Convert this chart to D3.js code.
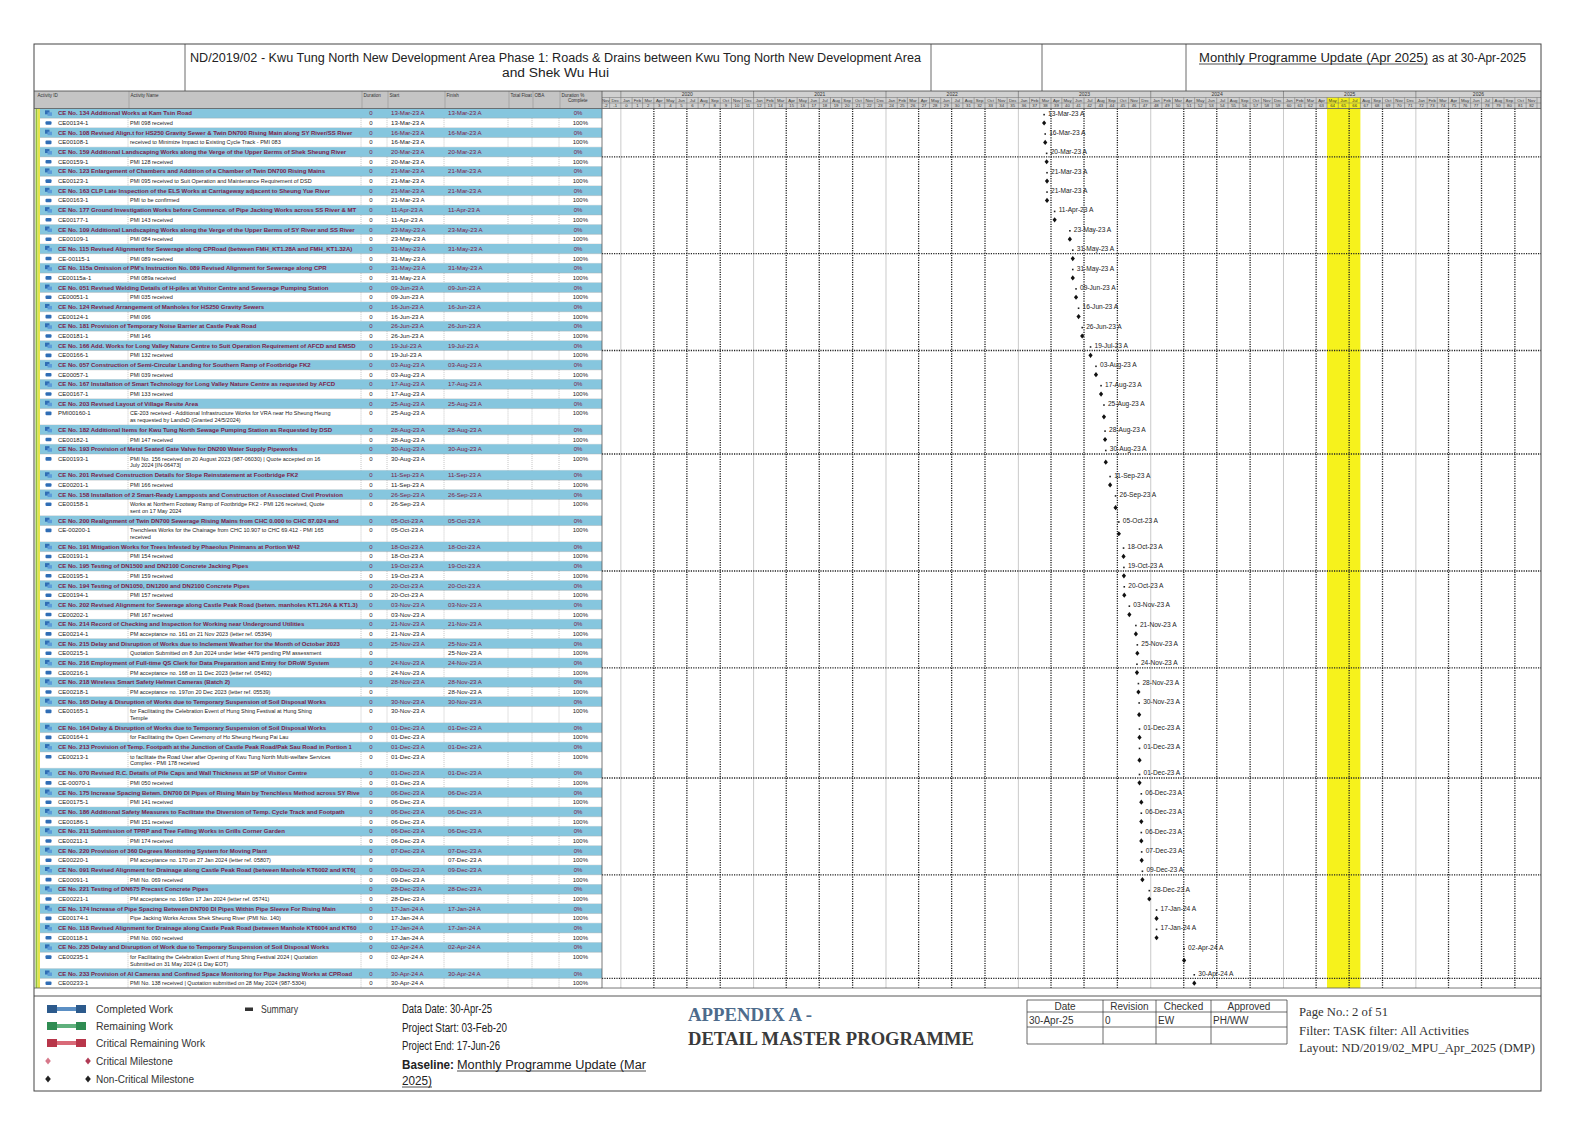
<!DOCTYPE html>
<html><head><meta charset="utf-8">
<script src="https://cdn.jsdelivr.net/npm/d3@7"></script>
<style>body{margin:0;background:#fff}svg{display:block}</style>
</head><body><svg id="c" width="1587" height="1123"></svg>
<script>
// ---------------- DATA ----------------
const summaryNames = [
"CE No. 134 Additional Works at Kam Tsin Road",
"CE No. 108 Revised Align.t for HS250 Gravity Sewer & Twin DN700 Rising Main along SY River/SS River",
"CE No. 159 Additional Landscaping Works along the Verge of the Upper Berms of Shek Sheung River",
"CE No. 123 Enlargement of Chambers and Addition of a Chamber of Twin DN700 Rising Mains",
"CE No. 163 CLP Late Inspection of the ELS Works at Carriageway adjacent to Sheung Yue River",
"CE No. 177 Ground Investigation Works before Commence. of Pipe Jacking Works across SS River & MT",
"CE No. 109 Additional Landscaping Works along the Verge of the Upper Berms of SY River and SS River",
"CE No. 115 Revised Alignment for Sewerage along CPRoad (between FMH_KT1.28A and FMH_KT1.32A)",
"CE No. 115a Omission of PM's Instruction No. 089 Revised Alignment for Sewerage along CPR",
"CE No. 051 Revised Welding Details of H-piles at Visitor Centre and Sewerage Pumping Station",
"CE No. 124 Revised Arrangement of Manholes for HS250 Gravity Sewers",
"CE No. 181 Provision of Temporary Noise Barrier at Castle Peak Road",
"CE No. 166 Add. Works for Long Valley Nature Centre to Suit Operation Requirement of AFCD and EMSD",
"CE No. 057 Construction of Semi-Circular Landing for Southern Ramp of Footbridge FK2",
"CE No. 167 Installation of Smart Technology for Long Valley Nature Centre as requested by AFCD",
"CE No. 203 Revised Layout of Village Resite Area",
"CE No. 182 Additional Items for Kwu Tung North Sewage Pumping Station as Requested by DSD",
"CE No. 193 Provision of Metal Seated Gate Valve for DN200 Water Supply Pipeworks",
"CE No. 201 Revised Construction Details for Slope Reinstatement at Footbridge FK2",
"CE No. 158 Installation of 2 Smart-Ready Lampposts and Construction of Associated Civil Provision",
"CE No. 200 Realignment of Twin DN700 Sewerage Rising Mains from CHC 0.000 to CHC 87.024 and",
"CE No. 191 Mitigation Works for Trees Infested by Phaeolus Pinimans at Portion W42",
"CE No. 195 Testing of DN1500 and DN2100 Concrete Jacking Pipes",
"CE No. 194 Testing of DN1050, DN1200 and DN2100 Concrete Pipes",
"CE No. 202 Revised Alignment for Sewerage along Castle Peak Road (betwn. manholes KT1.26A & KT1.3)",
"CE No. 214 Record of Checking and Inspection for Working near Underground Utilities",
"CE No. 215 Delay and Disruption of Works due to Inclement Weather for the Month of October 2023",
"CE No. 216 Employment of Full-time QS Clerk for Data Preparation and Entry for DRoW System",
"CE No. 218 Wireless Smart Safety Helmet Cameras (Batch 2)",
"CE No. 165 Delay & Disruption of Works due to Temporary Suspension of Soil Disposal Works",
"CE No. 164 Delay & Disruption of Works due to Temporary Suspension of Soil Disposal Works",
"CE No. 213 Provision of Temp. Footpath at the Junction of Castle Peak Road/Pak Sau Road in Portion 1",
"CE No. 070 Revised R.C. Details of Pile Caps and Wall Thickness at SP of Visitor Centre",
"CE No. 175 Increase Spacing Betwn. DN700 DI Pipes of Rising Main by Trenchless Method across SY Rive",
"CE No. 186 Additional Safety Measures to Facilitate the Diversion of Temp. Cycle Track and Footpath",
"CE No. 211 Submission of TPRP and Tree Felling Works in Grills Corner Garden",
"CE No. 220 Provision of 360 Degrees Monitoring System for Moving Plant",
"CE No. 091 Revised Alignment for Drainage along Castle Peak Road (between Manhole KT6002 and KT6(",
"CE No. 221 Testing of DN675 Precast Concrete Pipes",
"CE No. 174 Increase of Pipe Spacing Between DN700 DI Pipes Within Pipe Sleeve For Rising Main",
"CE No. 118 Revised Alignment for Drainage along Castle Peak Road (between Manhole KT6004 and KT60",
"CE No. 235 Delay and Disruption of Work due to Temporary Suspension of Soil Disposal Works",
"CE No. 233 Provision of AI Cameras and Confined Space Monitoring for Pipe Jacking Works at CPRoad"
];
const taskIds = ["CE00134-1","CE00108-1","CE00159-1","CE00123-1","CE00163-1","CE00177-1","CE00109-1","CE-00115-1","CE00115a-1","CE00051-1","CE00124-1","CE00181-1","CE00166-1","CE00057-1","CE00167-1","PMI00160-1","CE00182-1","CE00193-1","CE00201-1","CE00158-1","CE-00200-1","CE00191-1","CE00195-1","CE00194-1","CE00202-1","CE00214-1","CE00215-1","CE00216-1","CE00218-1","CE00165-1","CE00164-1","CE00213-1","CE-00070-1","CE00175-1","CE00186-1","CE00211-1","CE00220-1","CE00091-1","CE00221-1","CE00174-1","CE00118-1","CE00235-1","CE00233-1"];
const taskNames = [
"PMI 098 received",
"received to Minimize Impact to Existing Cycle Track - PMI 083",
"PMI 128 received",
"PMI 095 received to Suit Operation and Maintenance Requirement of DSD",
"PMI to be confirmed",
"PMI 143 received",
"PMI 084 received",
"PMI 089 received",
"PMI 089a received",
"PMI 035 received",
"PMI 096",
"PMI 146",
"PMI 132 received",
"PMI 039 received",
"PMI 133 received",
"CE-203 received - Additional Infrastructure Works for VRA near Ho Sheung Heung\nas requested by LandsD (Granted 24/5/2024)",
"PMI 147 received",
"PMI No. 156 received on 20 August 2023 (987-06030) | Quote accepted on 16\nJuly 2024 [IN-06473]",
"PMI 166 received",
"Works at Northern Footway Ramp of Footbridge FK2 - PMI 126 received, Quote\nsent on 17 May 2024",
"Trenchless Works for the Chainage from CHC 10.907 to CHC 69.412 - PMI 165\nreceived",
"PMI 154 received",
"PMI 159 received",
"PMI 157 received",
"PMI 167 received",
"PM acceptance no. 161 on 21 Nov 2023 (letter ref. 05394)",
"Quotation Submitted on 8 Jun 2024 under letter 4479 pending PM assessment",
"PM acceptance no. 168 on 11 Dec 2023 (letter ref. 05492)",
"PM acceptance no. 197on 20 Dec 2023 (letter ref. 05539)",
"for Facilitating the Celebration Event of Hung Shing Festival at Hung Shing\nTemple",
"for Facilitating the Open Ceremony of Ho Sheung Heung Pai Lau",
"to facilitate the Road User after Opening of Kwu Tung North Multi-welfare Services\nComplex - PMI 178 received",
"PMI 050 received",
"PMI 141 received",
"PMI 151 received",
"PMI 174 received",
"PM acceptance no. 170 on 27 Jan 2024 (letter ref. 05807)",
"PMI No. 069 received",
"PM acceptance no. 169on 17 Jan 2024 (letter ref. 05741)",
"Pipe Jacking Works Across Shek Sheung River (PMI No. 140)",
"PMI No. 090 received",
"for Facilitating the Celebration Event of Hung Shing Festival 2024 | Quotation\nSubmitted on 31 May 2024 (1 Day EOT)",
"PMI No. 138 received | Quotation submitted on 28 May 2024 (987-5304)"
];
const milestoneDates = ["13-Mar-23","16-Mar-23","20-Mar-23","21-Mar-23","21-Mar-23","11-Apr-23","23-May-23","31-May-23","31-May-23","09-Jun-23","16-Jun-23","26-Jun-23","19-Jul-23","03-Aug-23","17-Aug-23","25-Aug-23","28-Aug-23","30-Aug-23","11-Sep-23","26-Sep-23","05-Oct-23","18-Oct-23","19-Oct-23","20-Oct-23","03-Nov-23","21-Nov-23","25-Nov-23","24-Nov-23","28-Nov-23","30-Nov-23","01-Dec-23","01-Dec-23","01-Dec-23","06-Dec-23","06-Dec-23","06-Dec-23","07-Dec-23","09-Dec-23","28-Dec-23","17-Jan-24","17-Jan-24","02-Apr-24","30-Apr-24"];
const finishOnlyTasks = ["CE00215-1","CE00218-1","CE00220-1"];
const monthLabels = ["Jan","Feb","Mar","Apr","May","Jun","Jul","Aug","Sep","Oct","Nov","Dec"];
const columnHeaders = ["Activity ID","Activity Name","Duration","Start","Finish","Total Float","OBA","Duration %"];
const highlightPeriod = ["01-May-25","01-Aug-25"];
const timescaleRange = ["10-Nov-19","12-Dec-26"];
const legendLabels = ["Completed Work","Remaining Work","Critical Remaining Work","Critical Milestone","Non-Critical Milestone"];
const footerInfo = ["Data Date: 30-Apr-25","Project Start: 03-Feb-20","Project End: 17-Jun-26"];
const signHeaders = ["Date","Revision","Checked","Approved"];
const signValues = ["30-Apr-25","0","EW","PH/WW"];
const pageInfo = ["Page No.: 2 of 51","Filter: TASK filter: All Activities","Layout: ND/2019/02_MPU_Apr_2025 (DMP)"];

// ---------------- LAYOUT ----------------
const svg = d3.select('#c');
const F = "'Liberation Sans', Arial, sans-serif";
const FS = "'Liberation Serif', 'Times New Roman', serif";
const L=34, R=1541, T=44, B=1091;
const titleB=91, headB=108.5, gx0=602, gx1=R;
const rowH=9.68, rowH2=16.4;
const C = {icon:45, id:58, name:129, dur:362, start:388, finish:445, tf:509, oba:533, pct:560};
const parse = d3.timeParse("%d-%b-%y");
const x = d3.scaleTime().domain(timescaleRange.map(parse)).range([gx0,gx1]);

const rows=[]; let yy=headB;
summaryNames.forEach((s,i)=>{
  rows.push({type:'s', name:s, date:milestoneDates[i], y0:yy, h:rowH}); yy+=rowH;
  const h = taskNames[i].includes('\n')?rowH2:rowH;
  rows.push({type:'t', id:taskIds[i], name:taskNames[i], date:milestoneDates[i], y0:yy, h, finishOnly: finishOnlyTasks.includes(taskIds[i])}); yy+=h;
});
const tableB = yy;

const defs = svg.append('defs');
defs.append('clipPath').attr('id','clipName').append('rect').attr('x',L).attr('y',headB).attr('width',C.dur-L-1).attr('height',tableB-headB);
defs.append('clipPath').attr('id','clipTask').append('rect').attr('x',C.name).attr('y',headB).attr('width',C.dur-C.name-1).attr('height',tableB-headB);
defs.append('clipPath').attr('id','clipG').append('rect').attr('x',gx0).attr('y',titleB).attr('width',gx1-gx0).attr('height',tableB-titleB);

svg.append('rect').attr('width',1587).attr('height',1123).attr('fill','#fff');

// ---------------- TITLE ROW ----------------
const tg = svg.append('g');
[185,931,1042,1186].forEach(v=>tg.append('line').attr('x1',v).attr('x2',v).attr('y1',T).attr('y2',titleB).attr('stroke','#444').attr('stroke-width',0.8));
tg.append('text').attr('x',190).attr('y',62).attr('font-family',F).attr('font-size',12.5).attr('fill','#222')
  .attr('textLength',731).attr('lengthAdjust','spacingAndGlyphs')
  .text("ND/2019/02 - Kwu Tung North New Development Area Phase 1: Roads & Drains between Kwu Tong North New Development Area");
tg.append('text').attr('x',502).attr('y',77).attr('font-family',F).attr('font-size',12.5).attr('fill','#222')
  .attr('textLength',107).attr('lengthAdjust','spacingAndGlyphs').text("and Shek Wu Hui");
tg.append('text').attr('x',1199).attr('y',62).attr('font-family',F).attr('font-size',12.5).attr('fill','#222')
  .attr('textLength',229).attr('lengthAdjust','spacingAndGlyphs').text("Monthly Programme Update (Apr 2025)");
tg.append('line').attr('x1',1199).attr('x2',1428).attr('y1',64).attr('y2',64).attr('stroke','#222').attr('stroke-width',0.8);
tg.append('text').attr('x',1432).attr('y',62).attr('font-family',F).attr('font-size',12.5).attr('fill','#222')
  .attr('textLength',94).attr('lengthAdjust','spacingAndGlyphs').text("as at 30-Apr-2025");

// ---------------- TABLE HEADER ----------------
svg.append('rect').attr('x',L).attr('y',titleB).attr('width',gx0-L).attr('height',headB-titleB).attr('fill','#c4c4c4');
const colX=[L+2,C.name,C.dur,C.start,C.finish,C.tf,C.oba,C.pct];
columnHeaders.forEach((h,i)=>{
  svg.append('text').attr('x',colX[i]+1.5).attr('y',titleB+5.5).attr('font-family',F).attr('font-size',4.6).attr('fill','#333').text(h);
  if(i>0) svg.append('line').attr('x1',colX[i]).attr('x2',colX[i]).attr('y1',titleB).attr('y2',headB).attr('stroke','#8a8a8a').attr('stroke-width',0.5);
});
svg.append('text').attr('x',C.pct+8).attr('y',titleB+11).attr('font-family',F).attr('font-size',4.6).attr('fill','#333').text("Complete");

// ---------------- GANTT HEADER ----------------
const gh = svg.append('g').attr('clip-path','url(#clipG)');
const yr1=titleB, yr2=97.5, yr3=103, yr4=headB;
gh.append('rect').attr('x',gx0).attr('y',yr1).attr('width',gx1-gx0).attr('height',yr4-yr1).attr('fill','#d0d0d0');
const hp = highlightPeriod.map(parse);
gh.append('rect').attr('x',x(hp[0])).attr('y',yr2).attr('width',x(hp[1])-x(hp[0])).attr('height',yr4-yr2).attr('fill','#f2ef1c');
const d0=x.domain()[0], d1=x.domain()[1];
d3.timeYear.range(d3.timeYear.floor(d0), d1).forEach(ys=>{
  const a=Math.max(x(ys),gx0), b=Math.min(x(d3.timeYear.offset(ys,1)),gx1);
  gh.append('line').attr('x1',x(ys)).attr('x2',x(ys)).attr('y1',yr1).attr('y2',yr2).attr('stroke','#666').attr('stroke-width',0.6);
  if(b-a>30) gh.append('text').attr('x',(a+b)/2).attr('y',yr1+5).attr('text-anchor','middle').attr('font-family',F).attr('font-size',5).attr('fill','#333').text(ys.getFullYear());
});
d3.timeMonth.range(d3.timeMonth.floor(d0), d1).forEach(ms=>{
  const a=Math.max(x(ms),gx0), b=Math.min(x(d3.timeMonth.offset(ms,1)),gx1);
  gh.append('line').attr('x1',x(ms)).attr('x2',x(ms)).attr('y1',yr2).attr('y2',yr4).attr('stroke','#6a6a6a').attr('stroke-width',0.5);
  if(b-a>6){
    const n=(ms.getFullYear()-2020)*12+ms.getMonth();
    gh.append('text').attr('x',(a+b)/2).attr('y',yr3-1.3).attr('text-anchor','middle').attr('font-family',F).attr('font-size',4.3).attr('fill','#333').text(monthLabels[ms.getMonth()]);
    gh.append('text').attr('x',(a+b)/2).attr('y',yr4-1.3).attr('text-anchor','middle').attr('font-family',F).attr('font-size',4.3).attr('fill','#333').text(n);
  }
});
[yr2,yr3].forEach(v=>gh.append('line').attr('x1',gx0).attr('x2',gx1).attr('y1',v).attr('y2',v).attr('stroke','#6a6a6a').attr('stroke-width',0.5));

// ---------------- TABLE ROWS ----------------
const tb = svg.append('g');
rows.forEach(r=>{
  if(r.type==='s'){
    tb.append('rect').attr('x',L+6).attr('y',r.y0).attr('width',gx0-L-6).attr('height',r.h).attr('fill','#86c6de');
  }
  tb.append('line').attr('x1',L+6).attr('x2',gx0).attr('y1',r.y0+r.h).attr('y2',r.y0+r.h).attr('stroke','#a9a9a9').attr('stroke-width',0.4);
});
tb.append('rect').attr('x',35.5).attr('y',headB).attr('width',2).attr('height',tableB-headB).attr('fill','#93c23c');
tb.append('rect').attr('x',37.5).attr('y',headB).attr('width',2.5).attr('height',tableB-headB).attr('fill','#e4e44c');
rows.filter(r=>r.type==='t').forEach(r=>{
  [C.name,C.dur,C.start,C.finish,C.tf,C.oba,C.pct].forEach(v=>{
    tb.append('line').attr('x1',v-1).attr('x2',v-1).attr('y1',r.y0).attr('y2',r.y0+r.h).attr('stroke','#8d8d8d').attr('stroke-width',0.5).attr('stroke-dasharray','1,1');
  });
});
const nameG = tb.append('g').attr('clip-path','url(#clipName)');
const taskG = tb.append('g').attr('clip-path','url(#clipTask)');
rows.forEach(r=>{
  const yc = r.y0 + rowH/2;
  const by = yc + 2;
  if(r.type==='s'){
    tb.append('rect').attr('x',C.icon).attr('y',yc-3).attr('width',4.5).attr('height',4).attr('fill','#2f6db5');
    tb.append('rect').attr('x',C.icon+2.5).attr('y',yc-1).attr('width',4.5).attr('height',3.5).attr('fill','#5c9bd9');
    nameG.append('text').attr('x',C.id).attr('y',by).attr('font-family',F).attr('font-size',6).attr('font-weight','bold').attr('fill','#7b2049').text(r.name);
    const col='#7b2049';
    tb.append('text').attr('x',C.dur+9).attr('y',by).attr('text-anchor','middle').attr('font-family',F).attr('font-size',6).attr('fill',col).text('0');
    tb.append('text').attr('x',C.start+3).attr('y',by).attr('font-family',F).attr('font-size',6.1).attr('fill',col).text(r.date+' A');
    tb.append('text').attr('x',C.finish+3).attr('y',by).attr('font-family',F).attr('font-size',6.1).attr('fill',col).text(r.date+' A');
    tb.append('text').attr('x',578).attr('y',by).attr('text-anchor','middle').attr('font-family',F).attr('font-size',6).attr('fill',col).text('0%');
  } else {
    tb.append('rect').attr('x',C.icon+0.5).attr('y',yc-1.8).attr('width',6).attr('height',3.6).attr('rx',1).attr('fill','#2f6db5');
    tb.append('text').attr('x',C.id).attr('y',by).attr('font-family',F).attr('font-size',6).attr('fill','#222').text(r.id);
    r.name.split('\n').forEach((ln,k)=>{
      taskG.append('text').attr('x',C.name+1).attr('y',by+k*6.6).attr('font-family',F).attr('font-size',5.5).attr('fill','#222').text(ln);
    });
    tb.append('text').attr('x',C.dur+9).attr('y',by).attr('text-anchor','middle').attr('font-family',F).attr('font-size',6).attr('fill','#222').text('0');
    if(r.finishOnly) tb.append('text').attr('x',C.finish+3).attr('y',by).attr('font-family',F).attr('font-size',6.1).attr('fill','#222').text(r.date+' A');
    else tb.append('text').attr('x',C.start+3).attr('y',by).attr('font-family',F).attr('font-size',6.1).attr('fill','#222').text(r.date+' A');
    tb.append('text').attr('x',588).attr('y',by).attr('text-anchor','end').attr('font-family',F).attr('font-size',6).attr('fill','#222').text('100%');
  }
});

// ---------------- GANTT BODY ----------------
const gb = svg.append('g').attr('clip-path','url(#clipG)');
gb.append('rect').attr('x',x(hp[0])).attr('y',headB).attr('width',x(hp[1])-x(hp[0])).attr('height',tableB-headB).attr('fill','#f6f21c');
d3.timeYear.range(d3.timeYear.ceil(d0), d1).forEach(ys=>{
  gb.append('line').attr('x1',x(ys)).attr('x2',x(ys)).attr('y1',headB).attr('y2',tableB).attr('stroke','#bdbdbd').attr('stroke-width',0.8);
});
d3.timeMonth.range(d3.timeMonth.ceil(d0), d1).filter(m=>m.getMonth()%3===0 && m.getMonth()!==0).forEach(ms=>{
  gb.append('line').attr('x1',x(ms)).attr('x2',x(ms)).attr('y1',headB).attr('y2',tableB).attr('stroke','#222').attr('stroke-width',1.3).attr('stroke-dasharray','1.2,1.2');
});
rows.forEach((r,i)=>{
  if(i%10===5) gb.append('line').attr('x1',gx0).attr('x2',gx1).attr('y1',r.y0).attr('y2',r.y0).attr('stroke','#222').attr('stroke-width',1.3).attr('stroke-dasharray','1.2,1.2');
});
rows.forEach(r=>{
  const xd = x(parse(r.date));
  const yc = r.y0 + rowH/2;
  if(r.type==='s'){
    gb.append('rect').attr('x',xd-0.8).attr('y',yc+0.5).attr('width',1.6).attr('height',1.6).attr('fill','#222');
    gb.append('text').attr('x',xd+4).attr('y',yc+2.3).attr('font-family',F).attr('font-size',6.6).attr('fill','#222').text(r.date+' A');
  } else {
    const yd = r.y0 + r.h/2;
    gb.append('path').attr('d',`M${xd},${yd-2.6}L${xd+2.1},${yd}L${xd},${yd+2.6}L${xd-2.1},${yd}Z`).attr('fill','#111');
  }
});

// ---------------- FRAME LINES ----------------
const fr = svg.append('g').attr('fill','none');
fr.append('rect').attr('x',L).attr('y',T).attr('width',R-L).attr('height',B-T).attr('stroke','#444').attr('stroke-width',1);
fr.append('line').attr('x1',L).attr('x2',R).attr('y1',titleB).attr('y2',titleB).attr('stroke','#444').attr('stroke-width',0.8);
fr.append('line').attr('x1',L).attr('x2',R).attr('y1',headB).attr('y2',headB).attr('stroke','#555').attr('stroke-width',0.8);
fr.append('line').attr('x1',gx0).attr('x2',gx0).attr('y1',titleB).attr('y2',tableB).attr('stroke','#555').attr('stroke-width',0.8);
fr.append('line').attr('x1',L).attr('x2',R).attr('y1',tableB).attr('y2',tableB).attr('stroke','#555').attr('stroke-width',0.8);
fr.append('line').attr('x1',L).attr('x2',R).attr('y1',996).attr('y2',996).attr('stroke','#444').attr('stroke-width',0.9);

// ---------------- FOOTER ----------------
const ft = svg.append('g');
const legY=[1009,1026,1043,1061,1079];
const legCol=[["#2c5a8c","#5b8fc4"],["#2f8c52","#5fb07c"],["#b8364a","#d96a78"]];
[0,1,2].forEach(i=>{
  const y=legY[i];
  ft.append('rect').attr('x',47).attr('y',y-4).attr('width',10).attr('height',8).attr('fill',legCol[i][0]);
  ft.append('rect').attr('x',57).attr('y',y-2).attr('width',19).attr('height',4).attr('fill',legCol[i][1]);
  ft.append('rect').attr('x',76).attr('y',y-4).attr('width',10).attr('height',8).attr('fill',legCol[i][0]);
});
const dia=(g,cx,cy,fill)=>g.append('path').attr('d',`M${cx},${cy-3.5}L${cx+2.8},${cy}L${cx},${cy+3.5}L${cx-2.8},${cy}Z`).attr('fill',fill);
dia(ft,48,legY[3],'#d7788a'); dia(ft,88,legY[3],'#b03a55');
dia(ft,48,legY[4],'#222'); dia(ft,88,legY[4],'#222');
const legW=[77,77,109,77,98];
legendLabels.forEach((t,i)=>ft.append('text').attr('x',96).attr('y',legY[i]+4).attr('font-family',F).attr('font-size',11).attr('fill','#333').attr('textLength',legW[i]).attr('lengthAdjust','spacingAndGlyphs').text(t));
ft.append('rect').attr('x',245).attr('y',1007.5).attr('width',8).attr('height',3.5).attr('fill','#333');
ft.append('text').attr('x',261).attr('y',1013).attr('font-family',F).attr('font-size',11).attr('fill','#333').attr('textLength',37).attr('lengthAdjust','spacingAndGlyphs').text('Summary');

const infoY=[1013,1032,1050], infoW=[90,105,98];
footerInfo.forEach((t,i)=>ft.append('text').attr('x',402).attr('y',infoY[i]).attr('font-family',F).attr('font-size',12).attr('fill','#222').attr('textLength',infoW[i]).attr('lengthAdjust','spacingAndGlyphs').text(t));
ft.append('text').attr('x',402).attr('y',1069).attr('font-family',F).attr('font-size',12).attr('font-weight','bold').attr('fill','#222').attr('textLength',52).attr('lengthAdjust','spacingAndGlyphs').text('Baseline:');
ft.append('text').attr('x',457).attr('y',1069).attr('font-family',F).attr('font-size',12).attr('fill','#222').attr('textLength',189).attr('lengthAdjust','spacingAndGlyphs').text('Monthly Programme Update (Mar');
ft.append('line').attr('x1',457).attr('x2',646).attr('y1',1071).attr('y2',1071).attr('stroke','#222').attr('stroke-width',0.8);
ft.append('text').attr('x',402).attr('y',1085).attr('font-family',F).attr('font-size',12).attr('fill','#222').attr('textLength',30).attr('lengthAdjust','spacingAndGlyphs').text('2025)');
ft.append('line').attr('x1',402).attr('x2',432).attr('y1',1087).attr('y2',1087).attr('stroke','#222').attr('stroke-width',0.8);

ft.append('text').attr('x',688).attr('y',1021).attr('font-family',FS).attr('font-size',18).attr('font-weight','bold').attr('fill','#4d6b8c').attr('textLength',124).attr('lengthAdjust','spacingAndGlyphs').text('APPENDIX A -');
ft.append('text').attr('x',688).attr('y',1045).attr('font-family',FS).attr('font-size',18).attr('font-weight','bold').attr('fill','#3a3a3a').attr('textLength',286).attr('lengthAdjust','spacingAndGlyphs').text('DETAIL MASTER PROGRAMME');

const sx=[1027,1103,1156,1211,1287], sy=[1000,1012,1027,1044];
sy.forEach(v=>ft.append('line').attr('x1',sx[0]).attr('x2',sx[4]).attr('y1',v).attr('y2',v).attr('stroke','#444').attr('stroke-width',0.8));
sx.forEach(v=>ft.append('line').attr('x1',v).attr('x2',v).attr('y1',sy[0]).attr('y2',sy[3]).attr('stroke','#444').attr('stroke-width',0.8));
signHeaders.forEach((t,i)=>ft.append('text').attr('x',(sx[i]+sx[i+1])/2).attr('y',1010).attr('text-anchor','middle').attr('font-family',F).attr('font-size',10).attr('fill','#333').text(t));
signValues.forEach((t,i)=>ft.append('text').attr('x',sx[i]+2).attr('y',1024).attr('font-family',F).attr('font-size',10).attr('fill','#333').text(t));

const pgY=[1016,1035,1052], pgW=[89,170,236];
pageInfo.forEach((t,i)=>ft.append('text').attr('x',1299).attr('y',pgY[i]).attr('font-family',FS).attr('font-size',12.5).attr('fill','#333').attr('textLength',pgW[i]).attr('lengthAdjust','spacingAndGlyphs').text(t));
</script></body></html>
